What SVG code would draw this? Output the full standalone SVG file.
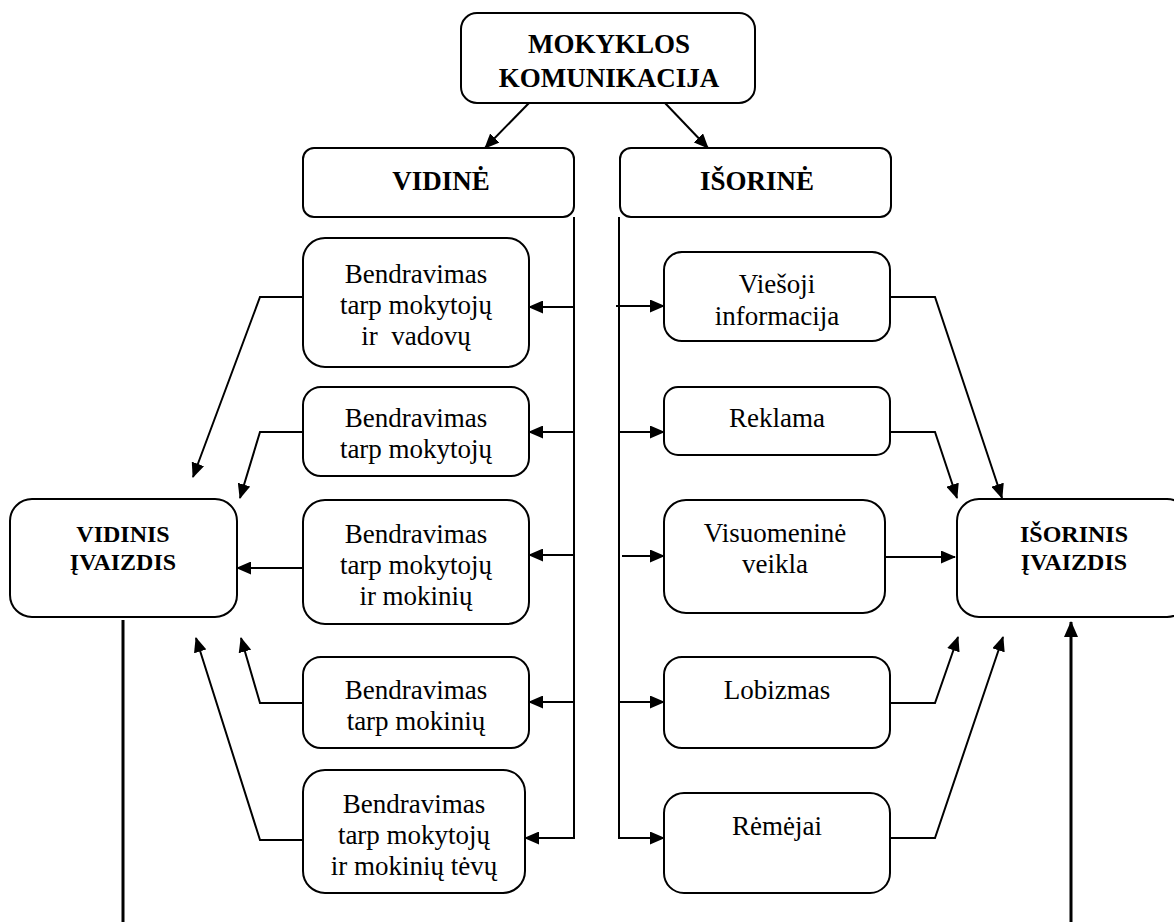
<svg xmlns="http://www.w3.org/2000/svg" width="1174" height="922" viewBox="0 0 1174 922">
  <style>
    .box { fill: #ffffff; stroke: #000000; stroke-width: 2; }
    .hd { font-family: "Liberation Serif", "Times New Roman", serif; font-weight: bold; font-size: 27px; text-anchor: middle; fill: #000000; }
    .hs { font-family: "Liberation Serif", "Times New Roman", serif; font-weight: bold; font-size: 24px; text-anchor: middle; fill: #000000; }
    .tx { font-family: "Liberation Serif", "Times New Roman", serif; font-size: 27px; text-anchor: middle; fill: #000000; white-space: pre; }
    .ln { fill: none; stroke: #000000; stroke-width: 2; }
    .arr { fill: none; stroke: #000000; stroke-width: 2; marker-end: url(#ah); }
    .thick { fill: none; stroke: #000000; stroke-width: 3; }
  </style>
  <defs>
    <marker id="ah" markerUnits="userSpaceOnUse" markerWidth="15" markerHeight="13" refX="14" refY="6.5" orient="auto">
      <path d="M0,0 L15,6.5 L0,13 Z" fill="#000000"/>
    </marker>
    <marker id="ahBig" markerUnits="userSpaceOnUse" markerWidth="16" markerHeight="14" refX="15" refY="7" orient="auto">
      <path d="M0,0 L16,7 L0,14 Z" fill="#000000"/>
    </marker>
  </defs>

  <rect width="1174" height="922" fill="#ffffff"/>

  <!-- connectors -->
  <g id="connectors">
    <!-- root to the two branches -->
    <line class="arr" x1="529" y1="103" x2="485" y2="148"/>
    <line class="arr" x1="665" y1="103" x2="708" y2="148"/>

    <!-- internal branch spine and feeds -->
    <path class="ln" d="M574,217 V839"/>
    <line class="arr" x1="574" y1="307" x2="529" y2="307"/>
    <line class="arr" x1="574" y1="432" x2="529" y2="432"/>
    <line class="arr" x1="574" y1="555" x2="529" y2="555"/>
    <line class="arr" x1="574" y1="702" x2="529" y2="702"/>
    <path class="arr" d="M574,838 H525"/>

    <!-- external branch spine and feeds -->
    <path class="arr" d="M619,217 V838 H664"/>
    <line class="arr" x1="616" y1="306" x2="664" y2="306"/>
    <line class="arr" x1="619" y1="432" x2="664" y2="432"/>
    <line class="arr" x1="622" y1="556" x2="664" y2="556"/>
    <line class="arr" x1="619" y1="702" x2="664" y2="702"/>

    <!-- internal activities to internal image -->
    <path class="arr" d="M303,297 H260 L193,477"/>
    <path class="arr" d="M303,432 H260 L240,498"/>
    <line class="arr" x1="303" y1="568" x2="237" y2="568"/>
    <path class="arr" d="M303,703 H260 L241,638"/>
    <path class="arr" d="M303,840 H260 L196,638"/>

    <!-- external activities to external image -->
    <path class="arr" d="M890,297 H935 L1002,498"/>
    <path class="arr" d="M890,432 H935 L957,498"/>
    <line class="arr" x1="885" y1="557" x2="955" y2="557"/>
    <path class="arr" d="M890,703 H935 L958,637"/>
    <path class="arr" d="M890,838 H935 L1003,637"/>

    <!-- image lines at the bottom -->
    <line class="thick" x1="123" y1="620" x2="123" y2="922"/>
    <line class="thick" x1="1071" y1="922" x2="1071" y2="622" marker-end="url(#ahBig)"/>
  </g>

  <!-- root -->
  <g id="mokyklos-komunikacija">
    <rect class="box" x="461" y="13" width="294" height="90" rx="16"/>
    <text class="hd" x="609" y="53">MOKYKLOS</text>
    <text class="hd" x="609" y="87">KOMUNIKACIJA</text>
  </g>

  <!-- branches -->
  <g id="vidine">
    <rect class="box" x="303" y="148" width="271" height="69" rx="11"/>
    <text class="hd" x="441" y="190">VIDINĖ</text>
  </g>
  <g id="isorine">
    <rect class="box" x="620" y="148" width="271" height="69" rx="11"/>
    <text class="hd" x="757" y="190">IŠORINĖ</text>
  </g>

  <!-- internal activities -->
  <g id="mokytojai-vadovai">
    <rect class="box" x="303" y="238" width="226" height="129" rx="22"/>
    <text class="tx" x="416" y="283">Bendravimas</text>
    <text class="tx" x="416" y="314">tarp mokytojų</text>
    <text class="tx" x="416" y="345">ir  vadovų</text>
  </g>
  <g id="mokytojai">
    <rect class="box" x="303" y="387" width="226" height="89" rx="18"/>
    <text class="tx" x="416" y="427">Bendravimas</text>
    <text class="tx" x="416" y="458">tarp mokytojų</text>
  </g>
  <g id="mokytojai-mokiniai">
    <rect class="box" x="303" y="500" width="226" height="124" rx="22"/>
    <text class="tx" x="416" y="543">Bendravimas</text>
    <text class="tx" x="416" y="574">tarp mokytojų</text>
    <text class="tx" x="416" y="605">ir mokinių</text>
  </g>
  <g id="mokiniai">
    <rect class="box" x="303" y="657" width="226" height="91" rx="18"/>
    <text class="tx" x="416" y="699">Bendravimas</text>
    <text class="tx" x="416" y="730">tarp mokinių</text>
  </g>
  <g id="mokytojai-tevai">
    <rect class="box" x="303" y="770" width="222" height="123" rx="22"/>
    <text class="tx" x="414" y="813">Bendravimas</text>
    <text class="tx" x="414" y="844">tarp mokytojų</text>
    <text class="tx" x="414" y="875">ir mokinių tėvų</text>
  </g>

  <!-- external activities -->
  <g id="viesoji-informacija">
    <rect class="box" x="664" y="252" width="226" height="89" rx="18"/>
    <text class="tx" x="777" y="293">Viešoji</text>
    <text class="tx" x="777" y="325">informacija</text>
  </g>
  <g id="reklama">
    <rect class="box" x="664" y="387" width="226" height="68" rx="14"/>
    <text class="tx" x="777" y="427">Reklama</text>
  </g>
  <g id="visuomenine-veikla">
    <rect class="box" x="664" y="500" width="221" height="113" rx="22"/>
    <text class="tx" x="775" y="542">Visuomeninė</text>
    <text class="tx" x="775" y="573">veikla</text>
  </g>
  <g id="lobizmas">
    <rect class="box" x="664" y="657" width="226" height="91" rx="18"/>
    <text class="tx" x="777" y="699">Lobizmas</text>
  </g>
  <g id="remejai">
    <rect class="box" x="664" y="793" width="226" height="100" rx="20"/>
    <text class="tx" x="777" y="835">Rėmėjai</text>
  </g>

  <!-- images -->
  <g id="vidinis-ivaizdis">
    <rect class="box" x="10" y="499" width="227" height="118" rx="22"/>
    <text class="hs" x="123" y="542">VIDINIS</text>
    <text class="hs" x="123" y="570">ĮVAIZDIS</text>
  </g>
  <g id="isorinis-ivaizdis">
    <rect class="box" x="957" y="499" width="232" height="118" rx="22"/>
    <text class="hs" x="1074" y="542">IŠORINIS</text>
    <text class="hs" x="1074" y="570">ĮVAIZDIS</text>
  </g>
</svg>
